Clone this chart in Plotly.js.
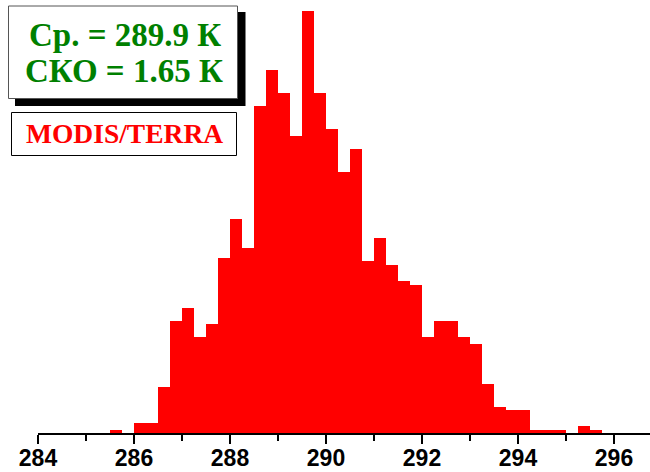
<!DOCTYPE html>
<html>
<head>
<meta charset="utf-8">
<script src="https://cdn.plot.ly/plotly-3.0.1.min.js"></script>
<style>html,body{margin:0;padding:0;background:#fff;}#chart{width:650px;height:472px;}</style>
</head>
<body>
<div id="chart"></div>
<script>
// Bin left edges (K), bin width 0.25 K
const binStart = [285.5,285.75,286.0,286.25,286.5,286.75,287.0,287.25,287.5,287.75,
  288.0,288.25,288.5,288.75,289.0,289.25,289.5,289.75,290.0,290.25,
  290.5,290.75,291.0,291.25,291.5,291.75,292.0,292.25,292.5,292.75,
  293.0,293.25,293.5,293.75,294.0,294.25,294.5,294.75,295.0,295.25,295.5];
const counts = [1,0,3,3,14,34,38,29,33,53,
  65,56,99,110,103,90,128,103,92,79,
  86,52,59,51,46,45,29,34,34,29,
  27,15,8,7,7,1,1,1,0,2,1];
const binWidth = 0.25;
const tickVals = [284,286,288,290,292,294,296];
const tickText = ["284","286","288","290","292","294","296"];
const statLine1 = "Ср. = 289.9 К";
const statLine2 = "СКО = 1.65 К";
const sourceLabel = "MODIS/TERRA";

const centers = binStart.map(v => v + binWidth/2);

// pixel -> paper helpers (plot area: left 38, width 612, top 0, height 433)
const L = 38, W = 612, H = 433;
const px = x => (x - L) / W;
const py = y => (H - y) / H;

const trace = {
  type: 'bar', x: centers, y: counts, width: binWidth,
  marker: {color: '#ff0000', line: {width: 0}},
  hoverinfo: 'skip'
};

const layout = {
  width: 650, height: 472,
  margin: {l: L, r: 0, t: 0, b: 39},
  paper_bgcolor: '#ffffff', plot_bgcolor: '#ffffff',
  showlegend: false, bargap: 0,
  xaxis: {
    range: [284, 296.75], showgrid: false, zeroline: false,
    showline: true, linecolor: '#000', linewidth: 2,
    ticks: 'outside', ticklen: 9, tickwidth: 2, tickcolor: '#000',
    tickvals: tickVals, ticktext: tickText, ticklabelstandoff: -6,
    tickfont: {family: 'Liberation Sans, Arial, sans-serif', size: 23, color: '#000', weight: 'bold'},
    minor: {dtick: 1, tick0: 284, ticks: 'outside', ticklen: 6, tickwidth: 2, tickcolor: '#000', showgrid: false}
  },
  yaxis: {range: [0, 433/3.3], visible: false, fixedrange: true},
  shapes: [
    {type: 'rect', xref: 'paper', yref: 'paper', x0: px(15), x1: px(245.5), y0: py(106), y1: py(12),
     fillcolor: '#000', line: {width: 0}, layer: 'above'},
    {type: 'rect', xref: 'paper', yref: 'paper', x0: px(8.5), x1: px(237.5), y0: py(98.5), y1: py(6),
     fillcolor: '#fff', line: {color: '#555', width: 1}, layer: 'above'},
    {type: 'rect', xref: 'paper', yref: 'paper', x0: px(11.5), x1: px(236.5), y0: py(155.5), y1: py(112.5),
     fillcolor: '#fff', line: {color: '#000', width: 1}, layer: 'above'}
  ],
  annotations: [
    {xref: 'paper', yref: 'paper', x: px(124.5), y: py(35), xanchor: 'center', yanchor: 'middle',
     text: statLine1, showarrow: false,
     font: {family: 'Liberation Serif, Times New Roman, serif', size: 33, color: '#008000', weight: 'bold'}},
    {xref: 'paper', yref: 'paper', x: px(123.5), y: py(71), xanchor: 'center', yanchor: 'middle',
     text: statLine2, showarrow: false,
     font: {family: 'Liberation Serif, Times New Roman, serif', size: 33, color: '#008000', weight: 'bold'}},
    {xref: 'paper', yref: 'paper', x: px(124), y: py(134), xanchor: 'center', yanchor: 'middle',
     text: sourceLabel, showarrow: false,
     font: {family: 'Liberation Serif, Times New Roman, serif', size: 27.5, color: '#ff0000', weight: 'bold'}}
  ]
};

Plotly.newPlot('chart', [trace], layout, {staticPlot: true, displayModeBar: false});
</script>
</body>
</html>
